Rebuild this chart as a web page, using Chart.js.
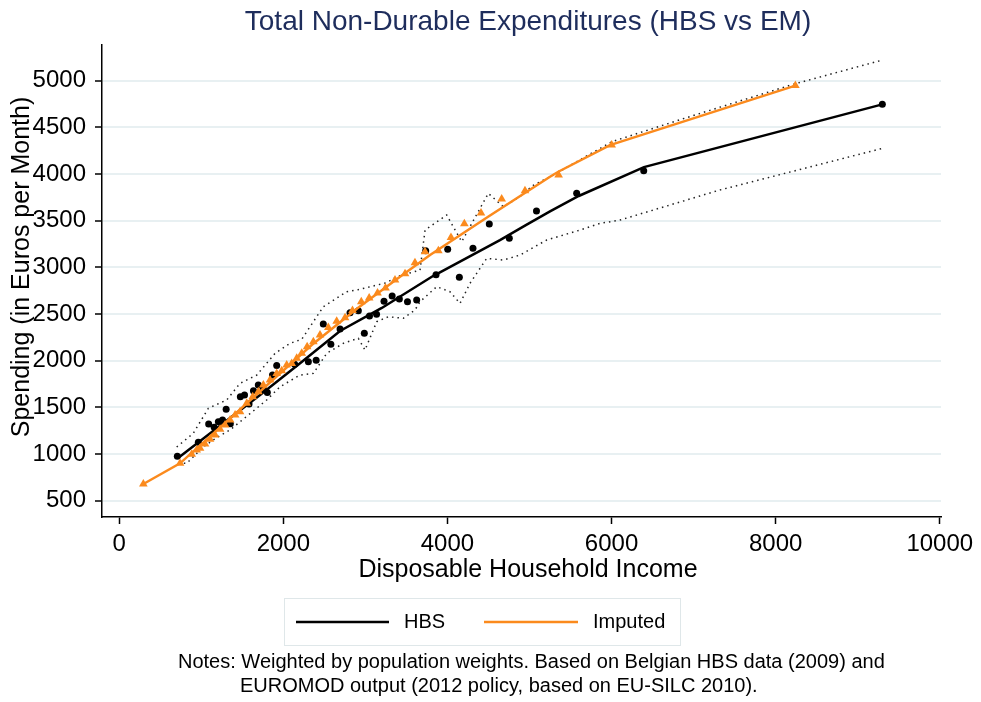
<!DOCTYPE html>
<html>
<head>
<meta charset="utf-8">
<script src="https://cdn.jsdelivr.net/npm/chart.js@4.4.1/dist/chart.umd.min.js"></script>
<style>
  html, body { margin: 0; padding: 0; background: #fff; }
  #wrap { position: relative; width: 981px; height: 702px; }
</style>
</head>
<body>
<div id="wrap"><canvas id="chart" width="981" height="702"></canvas></div>
<script>
// HBS binned means (black dots)
const hbsIncome = [708, 964, 1090, 1157, 1208, 1259, 1303, 1354, 1476, 1527, 1582, 1636, 1695, 1756, 1805, 1868, 1919, 2138, 2305, 2400,
  2487, 2579, 2691, 2813, 2914, 2987, 3050, 3136, 3227, 3326, 3414, 3513, 3625, 3735, 3861, 4003, 4145, 4311, 4510, 4754, 5085, 5575, 6392, 9300];
const hbsSpend = [975, 1125, 1321, 1286, 1346, 1364, 1479, 1325, 1614, 1632, 1536, 1677, 1739, 1698, 1659, 1846, 1948, 1962, 1988, 2004,
  2393, 2175, 2339, 2514, 2536, 2293, 2479, 2497, 2636, 2693, 2661, 2632, 2650, 3177, 2922, 3193, 2893, 3204, 3464, 3311, 3604, 3793, 4036, 4747];

// HBS smoothed fit (black line)
const fitIncome = [717, 1200, 1716, 2200, 2691, 3200, 3824, 4640, 4950, 5250, 5600, 6395, 9300];
const fitSpend = [957, 1285, 1632, 1970, 2318, 2565, 2907, 3293, 3450, 3600, 3765, 4075, 4747];

// Imputed (EUROMOD) means (orange triangles)
const impIncome = [294, 741, 883, 944, 985, 1046, 1107, 1168, 1229, 1290, 1351, 1412, 1472, 1554, 1627, 1695, 1756, 1838, 1919, 1980,
  2041, 2102, 2163, 2224, 2290, 2366, 2447, 2548, 2650, 2752, 2843, 2950, 3046, 3148, 3245, 3361, 3483, 3604, 3727, 3889,
  4043, 4206, 4409, 4661, 4945, 5355, 6001, 8240];
const impSpend = [679, 900, 997, 1043, 1061, 1107, 1157, 1204, 1264, 1311, 1364, 1418, 1453, 1543, 1614, 1668, 1739, 1793, 1864, 1893,
  1954, 1971, 2025, 2079, 2150, 2203, 2275, 2357, 2423, 2460, 2538, 2632, 2672, 2725, 2780, 2864, 2932, 3050, 3168, 3178,
  3320, 3468, 3582, 3734, 3820, 3990, 4311, 4948];

// Imputed smoothed fit (orange line)
const impFitIncome = [294, 741, 1500, 2346, 2900, 3422, 3788, 4500, 5250, 5351, 5981, 8240];
const impFitSpend = [679, 900, 1500, 2168, 2560, 2900, 3132, 3545, 3971, 4025, 4311, 4948];

// confidence band (dotted)
const upperIncome = [700, 903, 1086, 1310, 1472, 1676, 1899, 2081, 2224, 2487, 2772, 2894, 3260, 3382, 3666, 3727, 3991, 4174, 4498,
  4681, 4885, 5046, 5290, 6001, 6916, 8223, 9269];
const upperSpend = [1075, 1222, 1490, 1579, 1757, 1846, 2079, 2186, 2229, 2578, 2739, 2757, 2836, 2900, 2971, 3400, 3561, 3275, 3793,
  3650, 3760, 3880, 3989, 4346, 4605, 4964, 5214];
const lowerIncome = [720, 822, 1025, 1208, 1350, 1574, 1797, 1960, 2203, 2366, 2529, 2731, 2914, 2995, 3138, 3279, 3462, 3604, 3666,
  3869, 4031, 4153, 4275, 4478, 4681, 4884, 5209, 5615, 5859, 6102, 7319, 9300];
const lowerSpend = [905, 900, 1078, 1186, 1257, 1418, 1579, 1721, 1846, 1864, 2079, 2186, 2240, 2114, 2418, 2471, 2454, 2543, 2632,
  2793, 2739, 2614, 2829, 3096, 3079, 3132, 3293, 3400, 3471, 3507, 3829, 4275];

const xTicks = [0, 2000, 4000, 6000, 8000, 10000];
const yTicks = [500, 1000, 1500, 2000, 2500, 3000, 3500, 4000, 4500, 5000];

const ORANGE = '#fb8a1d';
const FONT = '"Liberation Sans", Arial, sans-serif';

const pairs = (xs, ys) => xs.map((x, i) => ({ x: x, y: ys[i] }));

const textPlugin = {
  id: 'texts',
  afterDraw(chart) {
    const ctx = chart.ctx;
    ctx.save();
    ctx.textBaseline = 'middle';
    ctx.textAlign = 'center';

    ctx.fillStyle = '#1e2d5c';
    ctx.font = '28px ' + FONT;
    ctx.fillText('Total Non-Durable Expenditures (HBS vs EM)', 528, 22);

    ctx.fillStyle = '#000';
    ctx.font = '25px ' + FONT;
    ctx.fillText('Disposable Household Income', 528, 570);

    ctx.save();
    ctx.translate(22, 267);
    ctx.rotate(-Math.PI / 2);
    ctx.fillText('Spending (in Euros per Month)', 0, 0);
    ctx.restore();

    // legend
    ctx.strokeStyle = '#dfe7e9';
    ctx.lineWidth = 1;
    ctx.strokeRect(284.5, 598.5, 396, 47);
    ctx.lineWidth = 2.5;
    ctx.strokeStyle = '#000';
    ctx.beginPath(); ctx.moveTo(296, 622); ctx.lineTo(389, 622); ctx.stroke();
    ctx.strokeStyle = ORANGE;
    ctx.beginPath(); ctx.moveTo(484, 622); ctx.lineTo(578, 622); ctx.stroke();
    ctx.textAlign = 'left';
    ctx.font = '20px ' + FONT;
    ctx.fillText('HBS', 404, 622);
    ctx.fillText('Imputed', 593, 622);

    // notes
    ctx.font = '20px ' + FONT;
    ctx.fillText('Notes: Weighted by population weights. Based on Belgian HBS data (2009) and', 178, 662);
    ctx.fillText('EUROMOD output (2012 policy, based on EU-SILC 2010).', 240, 686);
    ctx.restore();
  }
};

const dotted = {
  showLine: true,
  borderColor: '#222',
  borderWidth: 1.5,
  borderDash: [1.5, 4],
  pointRadius: 0
};

new Chart(document.getElementById('chart'), {
  type: 'scatter',
  data: {
    datasets: [
      {
        label: 'Imputed means',
        data: pairs(impIncome, impSpend),
        pointStyle: 'triangle',
        pointRadius: 5,
        pointBackgroundColor: ORANGE,
        pointBorderWidth: 0
      },
      {
        label: 'Imputed',
        data: pairs(impFitIncome, impFitSpend),
        showLine: true,
        borderColor: ORANGE,
        borderWidth: 2.5,
        pointRadius: 0
      },
      {
        label: 'HBS',
        data: pairs(fitIncome, fitSpend),
        showLine: true,
        borderColor: '#000',
        borderWidth: 2.5,
        pointRadius: 0
      },
      {
        label: 'HBS means',
        data: pairs(hbsIncome, hbsSpend),
        pointRadius: 3.5,
        pointBackgroundColor: '#000',
        pointBorderWidth: 0
      },
      { label: 'Upper', data: pairs(upperIncome, upperSpend), ...dotted },
      { label: 'Lower', data: pairs(lowerIncome, lowerSpend), ...dotted }
    ]
  },
  options: {
    responsive: false,
    animation: false,
    devicePixelRatio: 1,
    layout: { padding: { top: 45, right: 40, left: 0, bottom: 0 } },
    plugins: {
      legend: { display: false },
      tooltip: { enabled: false }
    },
    scales: {
      x: {
        type: 'linear',
        min: -210,
        max: 10015,
        afterBuildTicks: axis => { axis.ticks = xTicks.map(v => ({ value: v })); },
        afterFit: axis => { axis.height = 185; },
        ticks: { color: '#000', font: { size: 24, family: FONT }, padding: 6, maxRotation: 0, callback: v => String(v) },
        grid: { drawOnChartArea: false, tickColor: '#000', tickLength: 7, tickWidth: 1.5 },
        border: { color: '#000', width: 1.5 }
      },
      y: {
        type: 'linear',
        min: 325,
        max: 5383,
        afterBuildTicks: axis => { axis.ticks = yTicks.map(v => ({ value: v })); },
        afterFit: axis => { axis.width = 102; },
        ticks: { color: '#000', font: { size: 24, family: FONT }, padding: 9, callback: v => String(v) },
        grid: { color: '#e8f0f2', lineWidth: 2, tickColor: '#000', tickLength: 7, tickWidth: 1.5 },
        border: { color: '#000', width: 1.5 }
      }
    }
  },
  plugins: [textPlugin]
});
</script>
</body>
</html>
